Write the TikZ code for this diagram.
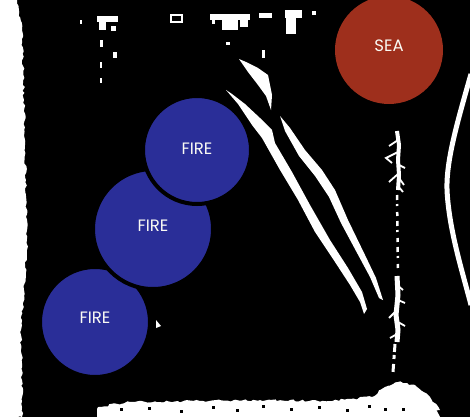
\documentclass[tikz,border=0pt]{standalone}
\usepackage{fontspec}
\setmainfont{Poppins}
\usetikzlibrary{decorations.pathmorphing}
\definecolor{fireblue}{RGB}{42,46,152}
\definecolor{seared}{RGB}{158,47,28}
\definecolor{chalk}{RGB}{250,250,244}
\begin{document}
\begin{tikzpicture}[x=1pt,y=-1pt,
  ball/.style={circle, fill=fireblue, draw=black, line width=4pt, text=chalk,
    font=\fontsize{16.5}{18}\selectfont, inner sep=0pt},
  seaball/.style={circle, fill=seared, text=chalk,
    font=\fontsize{16.5}{18}\selectfont, inner sep=0pt},
  rough/.style={decorate, decoration={random steps, segment length=3pt, amplitude=1.2pt}},
  speck/.style={fill=white},
  streak/.style={fill=white},
  spike/.style={white, line width=1.8pt}]
\pgfmathsetseed{7}
\useasboundingbox (0,0) rectangle (470,417);
% background
\fill[white] (0,0) rectangle (470,417);
\fill[black] (14,0) rectangle (470,417);
% left rough edge
\fill[white, rough] (0,0) -- (17,0) -- (22,30) -- (24,100) -- (26,180) -- (27,250) -- (24,290) -- (21,330) -- (22,380) -- (22,417) -- (0,417) -- cycle;
% bottom rough strip
\fill[white] (97,430) -- (97,409) -- (130,403) -- (200,402) -- (260,401) -- (330,402) -- (372,398) -- (385,388) -- (398,383) -- (415,386) -- (430,398) -- (447,430) -- cycle;
\fill[white, rough] (97,412) -- (98,407) -- (130,402) -- (200,401) -- (260,400) -- (330,401) -- (372,397) -- (385,387) -- (398,382) -- (415,385) -- (430,397) -- (440,410) -- cycle;
\foreach \hx/\hy in {120/408,148/407,180/410,212/406,236/409,262/405,290/408,318/406,346/409,368/405,384/408,402/408}
  \fill[black] (\hx,\hy) rectangle ++(3,3);
% right curved line
\draw[white, line width=5pt] (471,74) .. controls (458,120) and (446,160) .. (447,190) .. controls (449,230) and (462,270) .. (471,305);
% long diagonal streak A
\fill[streak] (226,90) -- (238,104) -- (252,125) -- (262,138) -- (280,170) -- (298,200) -- (315,232) -- (335,262) -- (350,285) -- (360,302) -- (364,314) -- (367,309) -- (362,292) -- (348,268) -- (330,240) -- (310,205) -- (292,172) -- (275,143) -- (272,130) -- (260,118) -- (245,104) -- (232,94) -- cycle;
% streak B top blob
\fill[streak] (239,59) -- (246,62) -- (258,68) -- (268,75) -- (272,95) -- (271,110) -- (266,96) -- (258,85) -- (248,72) -- cycle;
% streak B lower line
\fill[streak] (280,116) -- (290,128) -- (305,150) -- (322,170) -- (335,190) -- (348,220) -- (365,255) -- (376,278) -- (383,300) -- (379,298) -- (370,277) -- (356,251) -- (341,223) -- (329,197) -- (315,176) -- (299,156) -- (285,131) -- cycle;
% vertical dotted line, upper spiky part
\draw[white, line width=4pt] (397,131) -- (399,145) -- (398,160) -- (399,175) -- (398,190);
\draw[spike] (398,140) -- (389,146);
\draw[spike] (398,152) -- (386,158) -- (392,163);
\draw[spike] (399,165) -- (405,168);
\draw[spike] (398,174) -- (389,182);
\draw[spike] (399,178) -- (404,185);
\draw[spike] (398,186) -- (403,192);
\draw[white, line width=2.5pt, dash pattern=on 5pt off 4pt on 2pt off 6pt on 4pt off 5pt] (397,195) -- (398,272);
% lower spiky part
\draw[white, line width=5pt] (397,276) -- (398,295) -- (396,315) -- (398,330) -- (397,342);
\draw[spike] (397,285) -- (403,290);
\draw[spike] (398,300) -- (405,303);
\draw[spike] (397,310) -- (389,318);
\draw[spike] (398,322) -- (405,326);
\draw[spike] (397,334) -- (390,338);
\draw[white, line width=3pt, dash pattern=on 8pt off 3pt on 4pt off 5pt] (395,344) -- (393,372);
% top specks
\fill[speck] (97,16) rectangle (118,22);
\fill[speck] (99,22) rectangle (106,30);
\fill[speck] (111,26) rectangle (116,31);
\fill[speck] (100,40) rectangle (103,47);
\fill[speck] (113,52) rectangle (117,58);
\fill[speck] (100,62) rectangle (102,68);
\fill[speck] (100,78) rectangle (102,83);
\draw[white, line width=1.5pt] (171,15) rectangle (182,22);
\fill[speck] (210,14) rectangle (250,20);
\fill[speck] (222,20) rectangle (238,30);
\fill[speck] (240,20) rectangle (248,27);
\fill[speck] (212,16) rectangle (215,24);
\fill[speck] (259,13) rectangle (272,18);
\fill[speck] (285,10) rectangle (302,18);
\fill[speck] (286,18) rectangle (296,34);
\fill[speck] (312,11) rectangle (316,15);
\fill[speck] (226,42) rectangle (230,45);
\fill[speck] (262,50) rectangle (265,58);
\fill[speck] (80,20) rectangle (82,24);
\fill[speck] (156,320) -- (161,326) -- (156,328) -- cycle;
% circles
\node[ball, minimum size=110pt] (fire3) at (95,322) {\raisebox{8pt}{FIRE}};
\node[ball, minimum size=120pt] (fire2) at (153,229) {\raisebox{6pt}{FIRE}};
\node[ball, minimum size=108pt] (fire1) at (197,150) {\raisebox{3pt}{FIRE}};
\node[seaball, minimum size=108pt] (sea) at (389,50) {\raisebox{8pt}{SEA}};
\end{tikzpicture}
\end{document}
